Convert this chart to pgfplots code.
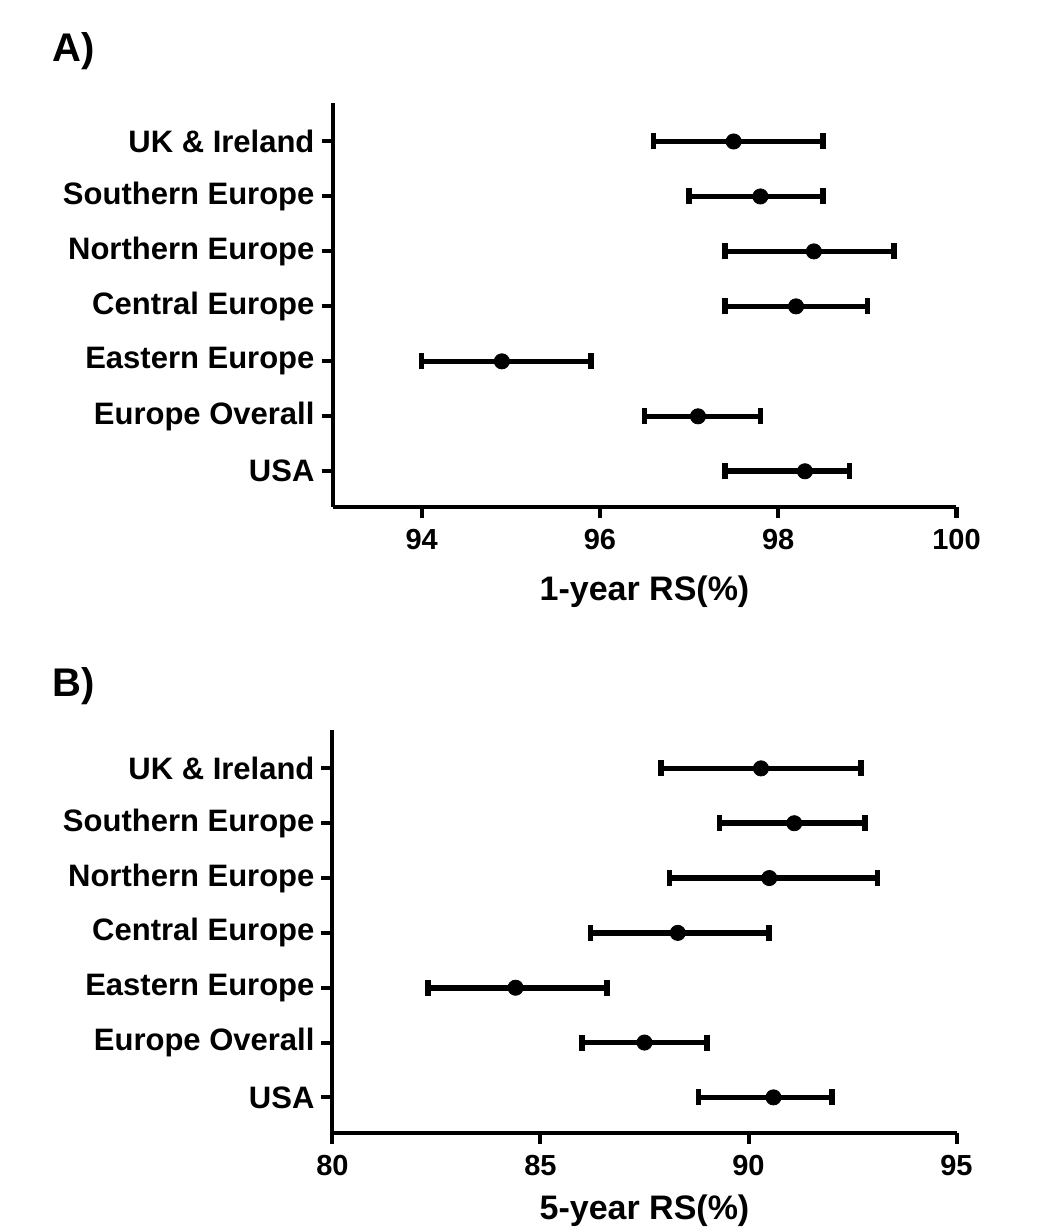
\documentclass[border=0pt]{standalone}
\usepackage{fontspec}
\setmainfont{Liberation Sans}
\usepackage{pgfplots}
\pgfplotsset{compat=1.18}
\usepackage{pgfplotstable}

\pgfplotstableread{
y m ep em
1 98.3 0.5 0.9
2 97.1 0.7 0.6
3 94.9 1.0 0.9
4 98.2 0.8 0.8
5 98.4 0.9 1.0
6 97.8 0.7 0.8
7 97.5 1.0 0.9
}\dataA

\pgfplotstableread{
y m ep em
1 90.6 1.4 1.8
2 87.5 1.5 1.5
3 84.4 2.2 2.1
4 88.3 2.2 2.1
5 90.5 2.6 2.4
6 91.1 1.7 1.8
7 90.3 2.4 2.4
}\dataB

\pgfplotsset{
 forest/.style={
  scale only axis, width=312pt, height=202pt,
  axis lines*=left, axis line style={line width=2pt, black},
  ymin=0.35, ymax=7.7, ytick={1,...,7},
  yticklabels={USA, Europe Overall, Eastern Europe, Central Europe, Northern Europe, Southern Europe, UK \& Ireland},
  tick align=outside, major tick length=5.5pt,
  tick style={black, line width=2pt},
  yticklabel style={font=\fontsize{15.5}{18}\selectfont\bfseries},
  xticklabel style={font=\fontsize{14.5}{17}\selectfont\bfseries, yshift=-2pt},
  /pgf/number format/assume math mode=true,
  xlabel style={font=\fontsize{17}{20}\selectfont\bfseries, at={(axis description cs:0.5,0)}, anchor=base, yshift=-46.5pt},
  clip=false,
 },
 fp/.style={only marks, mark=*, mark size=3.8pt, black,
   error bars/.cd, x dir=both, x explicit,
   error bar style={line width=2.8pt, black},
   error mark options={rotate=90, mark size=4pt, line width=2.8pt, black}},
}

\begin{document}
\begin{tikzpicture}
\useasboundingbox (0,0) rectangle (521.5pt,-613.5pt);
\node[anchor=base west, font=\fontsize{20}{24}\selectfont\bfseries, inner sep=0pt] at (26pt,-30.85pt) {A)};
\node[anchor=base west, font=\fontsize{20}{24}\selectfont\bfseries, inner sep=0pt] at (26pt,-348.35pt) {B)};
\begin{axis}[forest, anchor=north west, at={(166.25pt,-51.5pt)},
  xmin=93, xmax=100, xtick={94,96,98,100}, xlabel={1-year RS(\%)}]
\addplot[fp] table[x=m, y=y, x error plus=ep, x error minus=em] {\dataA};
\end{axis}
\begin{axis}[forest, anchor=north west, at={(166.25pt,-365pt)}, height=201.5pt,
  xmin=80, xmax=95, xtick={80,85,90,95}, xlabel={5-year RS(\%)},
  xlabel style={yshift=3.5pt}]
\addplot[fp] table[x=m, y=y, x error plus=ep, x error minus=em] {\dataB};
\end{axis}
\end{tikzpicture}
\end{document}
